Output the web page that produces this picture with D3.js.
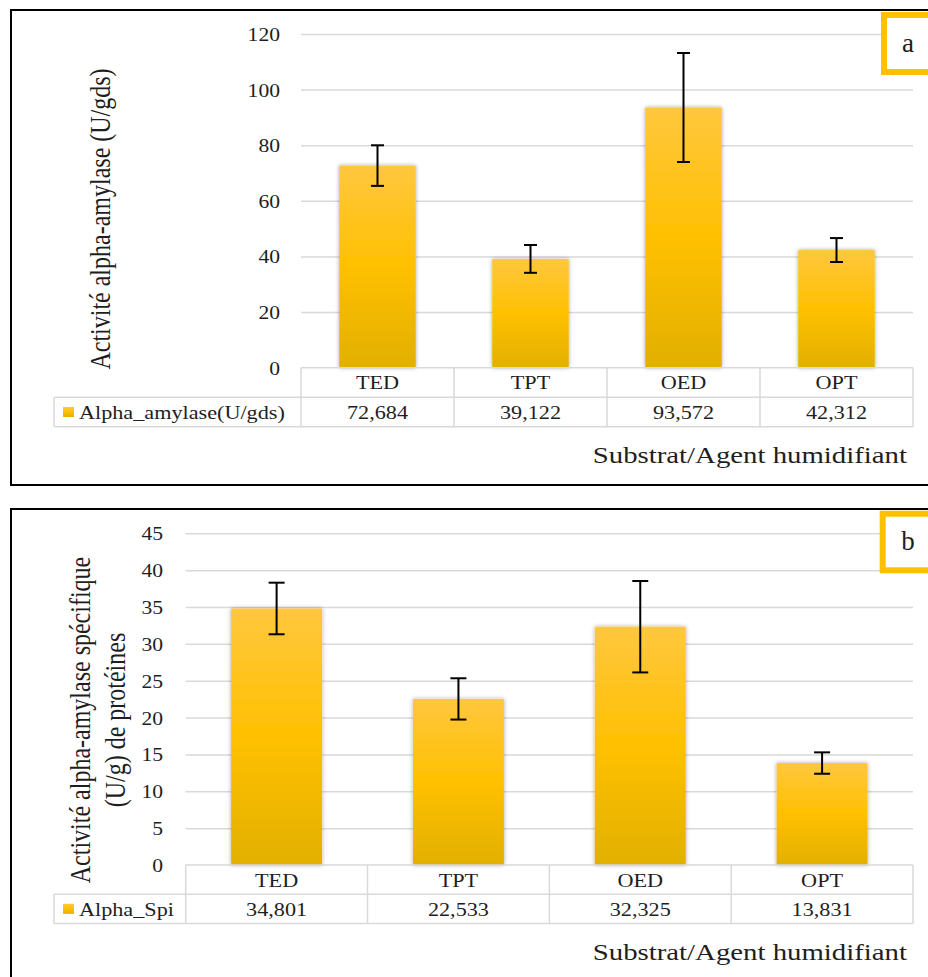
<!DOCTYPE html>
<html>
<head>
<meta charset="utf-8">
<script src="https://cdn.jsdelivr.net/npm/d3@7"></script>
<style>
  body { margin: 0; background: #fff; }
  svg { display: block; }
  text { font-family: "Liberation Serif", "Times New Roman", serif; fill: #1e1e1e; }
</style>
</head>
<body>
<svg id="chart" width="928" height="977"></svg>
<script>
// ---- data ----
const categories = ["TED", "TPT", "OED", "OPT"];

const amylaseValues = [72.684, 39.122, 93.572, 42.312];
const amylaseErrors = [7.3, 5.0, 19.6, 4.3];
const amylaseTicks = [0, 20, 40, 60, 80, 100, 120];

const spiValues = [34.801, 22.533, 32.325, 13.831];
const spiErrors = [3.5, 2.8, 6.2, 1.45];
const spiTicks = [0, 5, 10, 15, 20, 25, 30, 35, 40, 45];

// ---- drawing ----
const SX = 1.2; // horizontal text stretch
const fmt = v => d3.format(".3f")(v).replace(".", ",");

const svg = d3.select("#chart");
const defs = svg.append("defs");

const grad = defs.append("linearGradient").attr("id", "barFill")
  .attr("x1", 0).attr("y1", 0).attr("x2", 0).attr("y2", 1);
grad.append("stop").attr("offset", "0%").attr("stop-color", "#ffc73e");
grad.append("stop").attr("offset", "50%").attr("stop-color", "#ffc000");
grad.append("stop").attr("offset", "100%").attr("stop-color", "#e2b000");

const shadow = defs.append("filter").attr("id", "barShadow")
  .attr("x", "-20%").attr("y", "-10%").attr("width", "140%").attr("height", "120%");
shadow.append("feDropShadow").attr("dx", 0).attr("dy", 0).attr("stdDeviation", 2)
  .attr("flood-color", "#000").attr("flood-opacity", 0.35);

function label(g, x, y, str, size, anchor, rotated) {
  return g.append("text")
    .attr("transform", `translate(${x},${y}) scale(${SX},1)` + (rotated ? " rotate(-90)" : ""))
    .attr("text-anchor", anchor)
    .style("font-size", size + "px")
    .text(str);
}

function drawPanel(cfg) {
  const g = svg.append("g");

  // frame
  g.append("rect")
    .attr("x", cfg.frame[0]).attr("y", cfg.frame[1])
    .attr("width", cfg.frame[2]).attr("height", cfg.frame[3])
    .attr("fill", "none").attr("stroke", "#000").attr("stroke-width", 2);

  const x = d3.scaleBand().domain(categories).range([cfg.left, cfg.right]).paddingInner(0).paddingOuter(0);
  const y = d3.scaleLinear().domain([0, d3.max(cfg.ticks)]).range([cfg.y0, cfg.yTop]);

  // gridlines + tick labels
  const axis = g.append("g").attr("transform", `translate(${cfg.left},0)`)
    .call(d3.axisLeft(y).tickValues(cfg.ticks).tickSizeInner(-(cfg.right - cfg.left)).tickSizeOuter(0));
  axis.select(".domain").remove();
  axis.selectAll(".tick line").attr("stroke", "#d9d9d9").attr("stroke-width", 1.5);
  axis.selectAll(".tick").filter(d => d === 0).select("line").remove();
  axis.selectAll(".tick text")
    .attr("x", -cfg.tickPad / SX).attr("dy", "0.36em")
    .attr("transform", `scale(${SX},1)`)
    .attr("fill", "#1e1e1e")
    .style("font-family", '"Liberation Serif", "Times New Roman", serif')
    .style("font-size", "18px");

  // bars
  const bw = x.bandwidth() * 0.5;
  g.append("g").selectAll("rect").data(cfg.values).join("rect")
    .attr("x", (d, i) => x(categories[i]) + (x.bandwidth() - bw) / 2)
    .attr("y", d => y(d))
    .attr("width", bw)
    .attr("height", d => y(0) - y(d))
    .attr("fill", "url(#barFill)")
    .attr("filter", "url(#barShadow)");

  // error bars
  const eb = g.append("g").attr("stroke", "#000").attr("stroke-width", 2);
  cfg.values.forEach((v, i) => {
    const cx = x(categories[i]) + x.bandwidth() / 2;
    const lo = y(v - cfg.errors[i]), hi = y(v + cfg.errors[i]);
    eb.append("line").attr("x1", cx).attr("x2", cx).attr("y1", lo).attr("y2", hi);
    eb.append("line").attr("x1", cx - cfg.cap / 2).attr("x2", cx + cfg.cap / 2).attr("y1", lo).attr("y2", lo);
    eb.append("line").attr("x1", cx - cfg.cap / 2).attr("x2", cx + cfg.cap / 2).attr("y1", hi).attr("y2", hi);
  });

  // data table
  const r1 = cfg.y0 + cfg.rowH, r2 = cfg.y0 + 2 * cfg.rowH;
  const tl = g.append("g").attr("stroke", "#d9d9d9").attr("stroke-width", 1.5);
  tl.append("line").attr("x1", cfg.left).attr("x2", cfg.right).attr("y1", cfg.y0).attr("y2", cfg.y0);
  tl.append("line").attr("x1", cfg.legendLeft).attr("x2", cfg.right).attr("y1", r1).attr("y2", r1);
  tl.append("line").attr("x1", cfg.legendLeft).attr("x2", cfg.right).attr("y1", r2).attr("y2", r2);
  tl.append("line").attr("x1", cfg.legendLeft).attr("x2", cfg.legendLeft).attr("y1", r1).attr("y2", r2);
  categories.map(c => x(c)).concat([cfg.right]).forEach(px => {
    tl.append("line").attr("x1", px).attr("x2", px).attr("y1", cfg.y0).attr("y2", r2);
  });

  categories.forEach((c, i) => {
    const cx = x(c) + x.bandwidth() / 2;
    label(g, cx, cfg.y0 + cfg.rowH / 2 + 7, c, 18.5, "middle");
    label(g, cx, r1 + cfg.rowH / 2 + 7, fmt(cfg.values[i]), 18.5, "middle");
  });

  // legend key + series name
  g.append("rect").attr("x", 63).attr("y", r1 + cfg.rowH / 2 - 5).attr("width", 11).attr("height", 10)
    .attr("fill", "url(#barFill)");
  label(g, 79, r1 + cfg.rowH / 2 + 7, cfg.series, 18.5, "start");

  // axis titles
  cfg.yTitle.forEach((t, k) => label(g, cfg.yTitleX[k], cfg.yTitleY, t, 24, "middle", true));
  label(g, 907, cfg.xTitleY, "Substrat/Agent humidifiant", 24, "end");

  // panel letter
  g.append("rect").attr("x", cfg.tag[0]).attr("y", cfg.tag[1]).attr("width", 80).attr("height", cfg.tag[2])
    .attr("fill", "#fff").attr("stroke", "#ffc000").attr("stroke-width", 6);
  g.append("text").attr("x", 908).attr("y", cfg.tag[1] + cfg.tag[2] / 2 + 8)
    .attr("text-anchor", "middle").style("font-size", "27px").text(cfg.letter);
}

drawPanel({
  frame: [11, 10, 940, 475],
  left: 301, right: 913, y0: 367.7, yTop: 34,
  ticks: amylaseTicks, tickPad: 21,
  values: amylaseValues, errors: amylaseErrors, cap: 13,
  rowH: 29.5, legendLeft: 54, series: "Alpha_amylase(U/gds)",
  yTitle: ["Activité alpha-amylase (U/gds)"], yTitleX: [110], yTitleY: 219,
  xTitleY: 463,
  tag: [884, 15, 57], letter: "a"
});

drawPanel({
  frame: [11, 509, 940, 500],
  left: 185.7, right: 913, y0: 865, yTop: 533.3,
  ticks: spiTicks, tickPad: 22.7,
  values: spiValues, errors: spiErrors, cap: 16,
  rowH: 29.2, legendLeft: 54, series: "Alpha_Spi",
  yTitle: ["Activité alpha-amylase spécifique", "(U/g) de protéines"], yTitleX: [90, 125], yTitleY: 720,
  xTitleY: 960,
  tag: [882.7, 513.7, 56.6], letter: "b"
});
</script>
</body>
</html>
